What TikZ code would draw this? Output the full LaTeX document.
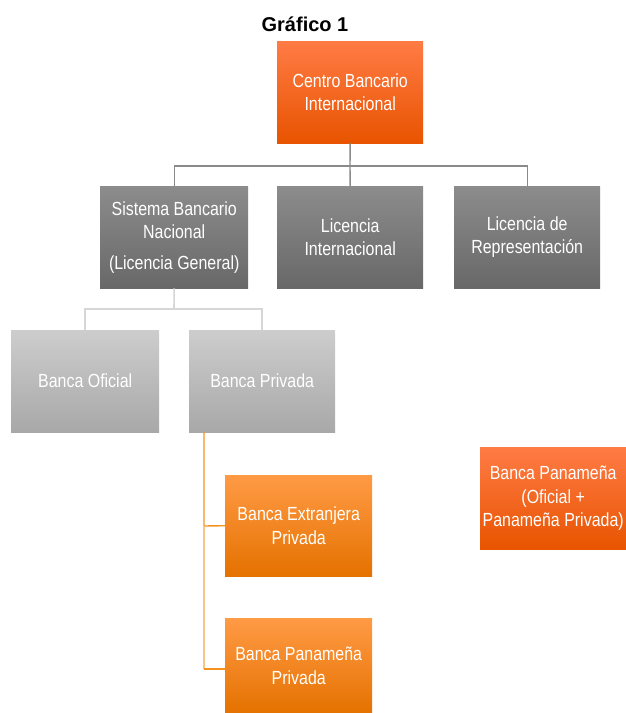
\documentclass[tikz,border=0pt]{standalone}
\usepackage{fontspec}
\setmainfont{Liberation Sans}
\newfontfamily\narrowfont[FakeStretch=0.84]{Liberation Sans}
\definecolor{redtop}{HTML}{FF7B45}
\definecolor{redbot}{HTML}{E85400}
\definecolor{dgtop}{HTML}{8C8C8C}
\definecolor{dgbot}{HTML}{686868}
\definecolor{lgtop}{HTML}{CDCDCD}
\definecolor{lgbot}{HTML}{A8A8A8}
\definecolor{ortop}{HTML}{FF9A45}
\definecolor{orbot}{HTML}{E57200}
\definecolor{orline}{HTML}{F5921E}
\definecolor{orlight}{HTML}{FAC38A}
\definecolor{gline}{HTML}{8A8A8A}
\definecolor{lgline}{HTML}{D6D6D6}
\begin{document}
\begin{tikzpicture}[x=1pt,y=-1pt,
  box/.style={rectangle, inner sep=0pt, anchor=north west, align=center, text=white,
    font=\narrowfont\fontsize{19}{23.5}\selectfont},
  redbox/.style={box, top color=redtop, bottom color=redbot},
  darkbox/.style={box, top color=dgtop, bottom color=dgbot},
  lightbox/.style={box, top color=lgtop, bottom color=lgbot},
  orbox/.style={box, top color=ortop, bottom color=orbot},
  gconn/.style={draw=gline, line width=1.4pt},
  lgconn/.style={draw=lgline, line width=1.6pt},
  orconn/.style={draw=orline, line width=1.4pt},
  olconn/.style={draw=orlight, line width=1.4pt}
]
\useasboundingbox (0,0) rectangle (626,713);

\node[font=\bfseries\fontsize{20}{24}\selectfont] (title) at (305,24) {Gráfico 1};

\node[redbox, minimum width=146pt, minimum height=102pt] (cbi) at (277,41) {Centro Bancario\\Internacional};

\node[darkbox, minimum width=148pt, minimum height=102pt] (sbn) at (100,186) {Sistema Bancario\\Nacional\\[7pt](Licencia General)};
\node[darkbox, minimum width=146pt, minimum height=102pt] (li) at (277,186) {Licencia\\Internacional};
\node[darkbox, minimum width=146pt, minimum height=102pt] (lr) at (454,186) {Licencia de\\Representación};

\node[lightbox, minimum width=148pt, minimum height=102pt] (bo) at (11,330) {Banca Oficial};
\node[lightbox, minimum width=146pt, minimum height=102pt] (bp) at (189,330) {Banca Privada};

\node[orbox, minimum width=147pt, minimum height=101pt] (bep) at (225,475) {Banca Extranjera\\Privada};
\node[orbox, minimum width=147pt, minimum height=95pt] (bpp) at (225,618) {Banca Panameña\\Privada};

\node[redbox, minimum width=146pt, minimum height=102pt] (bpan) at (480,447) {Banca Panameña\\(Oficial +\\Panameña Privada)};

% level 1 connectors
\coordinate (j1) at (350,166);
\draw[gconn] (cbi.south) -- (j1);
\draw[gconn] (sbn.north) |- (j1) -| (lr.north);
\draw[gconn] (j1) -- (li.north);

% level 2 connectors
\coordinate (j2) at (174,309);
\draw[lgconn] (sbn.south) -- (j2);
\draw[lgconn] (bo.north) |- (j2) -| (bp.north);

% level 3 connectors
\coordinate (p0) at (204,432);
\coordinate (p1) at (204,526);
\coordinate (p2) at (204,669);
\draw[orconn] (p0) -- (p1) -- (bep.west);
\draw[olconn] (p1) -- (p2);
\draw[orconn] (p2) -- (bpp.west |- p2);
\end{tikzpicture}
\end{document}
